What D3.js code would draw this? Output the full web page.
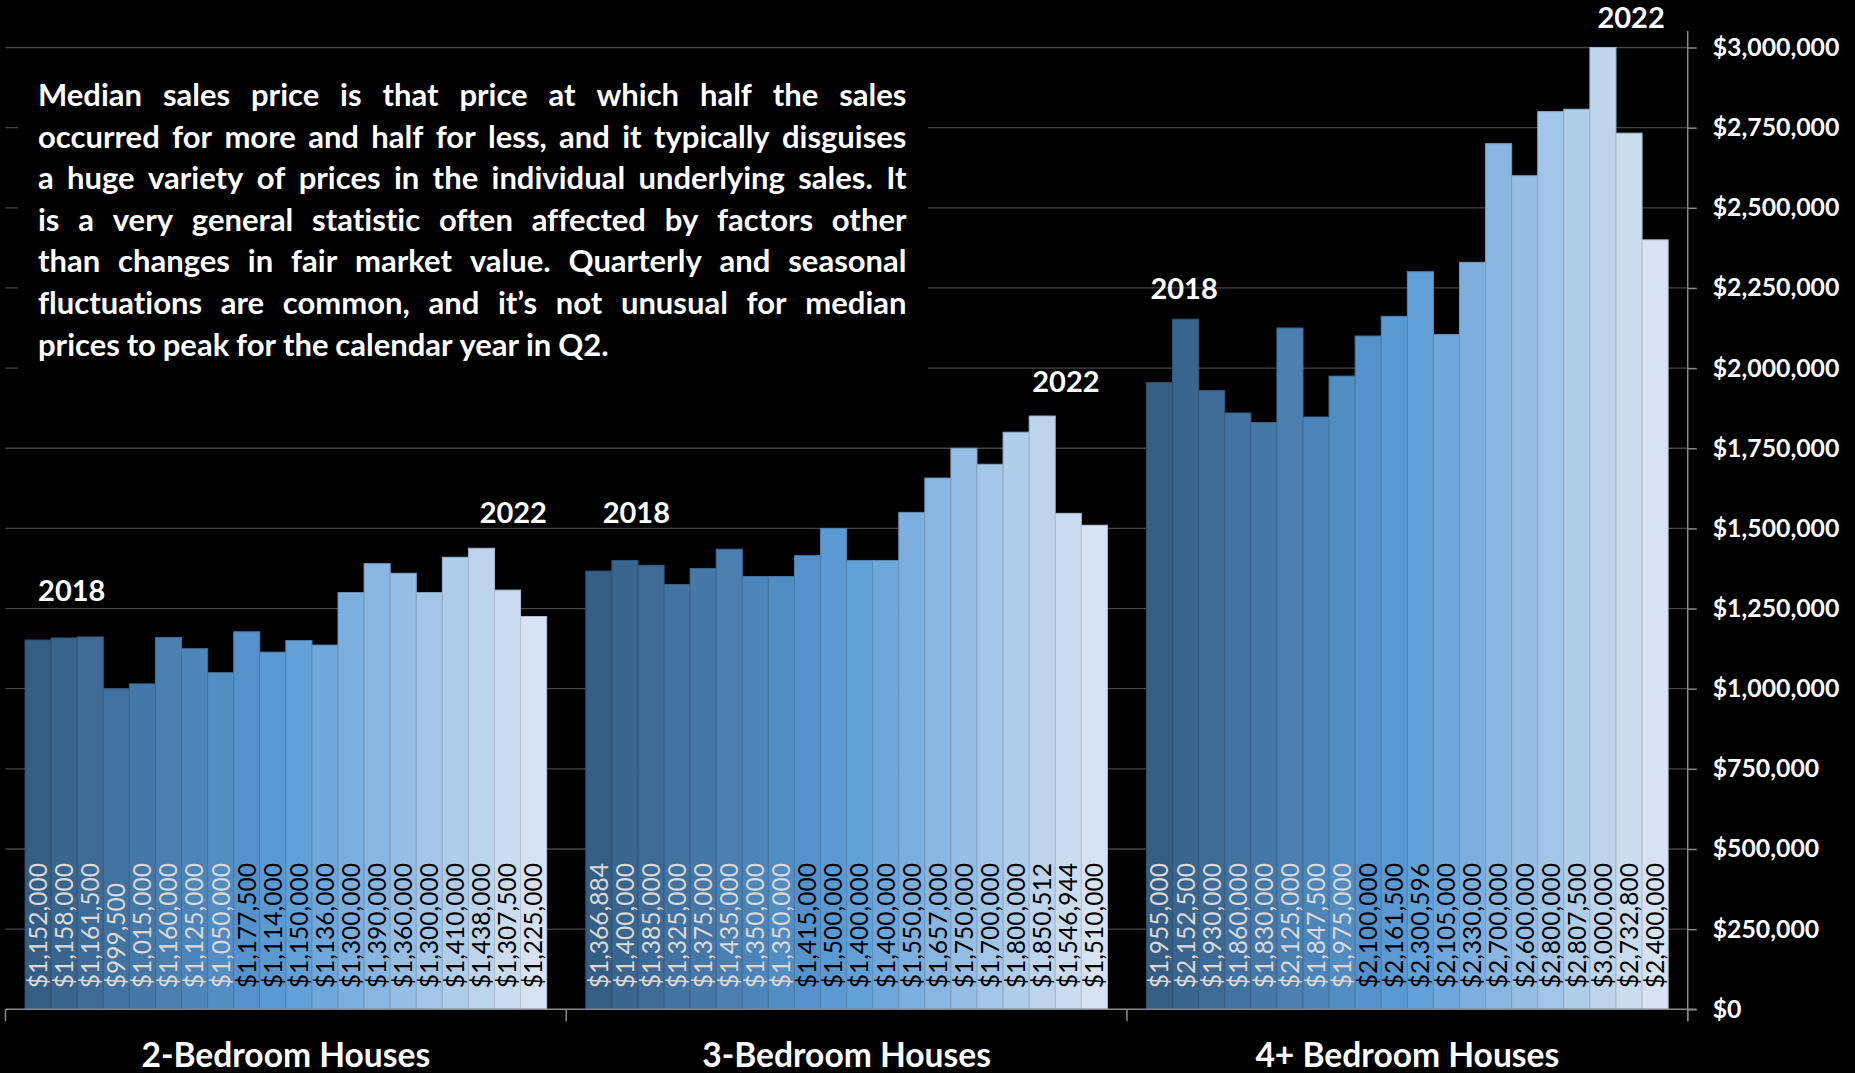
<!DOCTYPE html>
<html>
<head>
<meta charset="utf-8">
<script src="https://cdn.jsdelivr.net/npm/d3@7"></script>
<style>
  html, body { margin: 0; padding: 0; background: #000; }
  svg { display: block; }
  svg text { font-variant-ligatures: none; }
</style>
</head>
<body>
<svg id="chart" width="1855" height="1073"></svg>
<script>
// ---------------- DATA ----------------
const categories = ["2-Bedroom Houses", "3-Bedroom Houses", "4+ Bedroom Houses"];
const quarters = ["2018 Q1","2018 Q2","2018 Q3","2018 Q4","2019 Q1","2019 Q2","2019 Q3","2019 Q4",
                  "2020 Q1","2020 Q2","2020 Q3","2020 Q4","2021 Q1","2021 Q2","2021 Q3","2021 Q4",
                  "2022 Q1","2022 Q2","2022 Q3","2022 Q4"];
const twoBedroom = [1152000, 1158000, 1161500, 999500, 1015000, 1160000, 1125000, 1050000, 1177500, 1114000,
                    1150000, 1136000, 1300000, 1390000, 1360000, 1300000, 1410000, 1438000, 1307500, 1225000];
const threeBedroom = [1366884, 1400000, 1385000, 1325000, 1375000, 1435000, 1350000, 1350000, 1415000, 1500000,
                      1400000, 1400000, 1550000, 1657000, 1750000, 1700000, 1800000, 1850512, 1546944, 1510000];
const fourPlusBedroom = [1955000, 2152500, 1930000, 1860000, 1830000, 2125000, 1847500, 1975000, 2100000, 2161500,
                         2300596, 2105000, 2330000, 2700000, 2600000, 2800000, 2807500, 3000000, 2732800, 2400000];
const yTicks = [0, 250000, 500000, 750000, 1000000, 1250000, 1500000, 1750000, 2000000, 2250000, 2500000, 2750000, 3000000];
// year annotations: category, bar position within the group, value level of text baseline
const yearNotes = [
  { cat: "2-Bedroom Houses", text: "2018", pos: 1.79, level: 1273000 },
  { cat: "2-Bedroom Houses", text: "2022", pos: 18.72, level: 1517000 },
  { cat: "3-Bedroom Houses", text: "2018", pos: 1.94, level: 1517000 },
  { cat: "3-Bedroom Houses", text: "2022", pos: 18.41, level: 1926000 },
  { cat: "4+ Bedroom Houses", text: "2018", pos: 1.44, level: 2214000 },
  { cat: "4+ Bedroom Houses", text: "2022", pos: 18.58, level: 3060000 }
];
const noteLines = [
  "Median sales price is that price at which half the sales",
  "occurred for more and half for less, and it typically disguises",
  "a huge variety of prices in the individual underlying sales. It",
  "is a very general statistic often affected by factors other",
  "than changes in fair market value. Quarterly and seasonal",
  "fluctuations are common, and it\u2019s not unusual for median",
  "prices to peak for the calendar year in Q2."
];

const seriesByCat = [twoBedroom, threeBedroom, fourPlusBedroom];

// ---------------- LAYOUT ----------------
const FONT = "Lato, 'Open Sans', 'Liberation Sans', sans-serif";
const svg = d3.select("#chart");
const W = 1855, H = 1073;
const plotLeft = 5.5, plotRight = 1687.7, plotTop = 47.5, plotBottom = 1009.3;

svg.append("rect").attr("width", W).attr("height", H).attr("fill", "#000");

const x0 = d3.scaleBand().domain(categories).range([plotLeft, plotRight]).paddingInner(0).paddingOuter(0);
const x1 = d3.scaleBand().domain(d3.range(quarters.length)).range([0, x0.bandwidth()])
  .paddingInner(0).paddingOuter(0.75);
const y = d3.scaleLinear().domain([0, 3000000]).range([plotBottom, plotTop]);

const color = d3.scaleLinear().domain([0, 9.5, 19])
  .range(["#365E85", "#5C9CD6", "#D7E3F3"]).interpolate(d3.interpolateRgb);

const fmt = d3.format("$,");

// gridlines
svg.append("g").selectAll("line").data(yTicks.filter(d => d > 0)).join("line")
  .attr("x1", plotLeft).attr("x2", plotRight)
  .attr("y1", d => y(d)).attr("y2", d => y(d))
  .attr("stroke", "#454545").attr("stroke-width", 1.3);

// bars
const groups = svg.append("g").selectAll("g").data(categories).join("g")
  .attr("transform", d => `translate(${x0(d)},0)`);

groups.each(function(cat, ci) {
  const g = d3.select(this);
  const vals = seriesByCat[ci];
  g.selectAll("rect").data(vals).join("rect")
    .attr("x", (d, i) => x1(i))
    .attr("width", x1.bandwidth())
    .attr("y", d => y(d))
    .attr("height", d => y(0) - y(d))
    .attr("fill", (d, i) => color(i))
    .attr("stroke", (d, i) => d3.color(color(i)).darker(0.45))
    .attr("stroke-width", 1);
  g.selectAll("text.val").data(vals).join("text")
    .attr("class", "val")
    .attr("transform", (d, i) => `translate(${x1(i) + x1.bandwidth() / 2},${y(0) - 21}) rotate(-90)`)
    .attr("dy", "0.36em")
    .attr("text-anchor", "start")
    .attr("font-family", FONT)
    .attr("font-size", 24.6)
    .attr("fill", (d, i) => i < 8 ? "#D9D9D9" : "#000")
    .text(d => fmt(d));
});

// x axis baseline and category ticks
svg.append("line").attr("x1", plotLeft).attr("x2", plotRight + 9)
  .attr("y1", y(0)).attr("y2", y(0)).attr("stroke", "#8a8a8a").attr("stroke-width", 1.5);
const boundaries = categories.map(c => x0(c)).concat([x0(categories[categories.length - 1]) + x0.bandwidth()]);
svg.append("g").selectAll("line").data(boundaries).join("line")
  .attr("x1", d => d).attr("x2", d => d)
  .attr("y1", y(0)).attr("y2", y(0) + 12)
  .attr("stroke", "#8a8a8a").attr("stroke-width", 1.5);

// category labels
svg.append("g").selectAll("text").data(categories).join("text")
  .attr("x", d => x0(d) + x0.bandwidth() / 2)
  .attr("y", 1067)
  .attr("text-anchor", "middle")
  .attr("font-family", FONT).attr("font-weight", 700).attr("font-size", 33.6)
  .attr("fill", "#fff")
  .text(d => d);

// right y axis
const yAxis = d3.axisRight(y).tickValues(yTicks).tickFormat(fmt).tickSize(9).tickPadding(16);
const ya = svg.append("g").attr("transform", `translate(${plotRight},0)`).call(yAxis);
ya.select(".domain").remove();
ya.selectAll(".tick line").attr("stroke", "#8a8a8a").attr("stroke-width", 1.5);
ya.selectAll(".tick text").attr("fill", "#fff").attr("font-family", FONT)
  .attr("font-weight", 700).attr("font-size", 24.8);
svg.append("line").attr("x1", plotRight).attr("x2", plotRight)
  .attr("y1", 31).attr("y2", y(0) + 12).attr("stroke", "#8a8a8a").attr("stroke-width", 1.5);

// year annotations
svg.append("g").selectAll("text").data(yearNotes).join("text")
  .attr("x", d => x0(d.cat) + x1(0) + x1.step() * d.pos)
  .attr("y", d => y(d.level))
  .attr("text-anchor", "middle")
  .attr("font-family", FONT).attr("font-weight", 700).attr("font-size", 29)
  .attr("fill", "#fff")
  .text(d => d.text);

// explanatory note (black box, justified text)
const boxX = 18, boxY = 62, boxW = 910, boxH = 360;
svg.append("rect").attr("x", boxX).attr("y", boxY).attr("width", boxW).attr("height", boxH).attr("fill", "#000");
const noteLeft = 38, noteWidth = 868.5, noteBase = 106, noteLH = 41.6;
const noteG = svg.append("g").attr("font-family", FONT).attr("font-weight", 700)
  .attr("font-size", 27.5).attr("fill", "#fff");

// fit font size so the widest line fits naturally (like the reference)
const probe = noteG.append("text").attr("xml:space", "preserve");
let maxNat = 0;
noteLines.forEach(l => { probe.text(l); maxNat = Math.max(maxNat, probe.node().getComputedTextLength()); });
const noteSize = Math.min(31, 27.5 * noteWidth / maxNat);
noteG.attr("font-size", noteSize);
const spaceW = noteSize * 0.22;
const measure = w => { probe.text(w); return probe.node().getComputedTextLength(); };

noteLines.forEach((line, i) => {
  const words = line.split(" ");
  const widths = words.map(measure);
  const sum = d3.sum(widths);
  const isLast = i === noteLines.length - 1;
  const minGap = spaceW * 0.8;
  let gap = isLast ? spaceW : (noteWidth - sum) / (words.length - 1);
  let sx = 1;
  if (!isLast && gap < minGap) { gap = minGap; sx = noteWidth / (sum + gap * (words.length - 1)); }
  const xs = [];
  let xx = 0;
  widths.forEach(w => { xs.push(xx); xx += w + gap; });
  const t = noteG.append("text").attr("y", noteBase + i * noteLH)
    .attr("transform", `translate(${noteLeft},0) scale(${sx},1)`);
  words.forEach((w, j) => t.append("tspan").attr("x", xs[j]).text(w));
});
probe.remove();
</script>
</body>
</html>
